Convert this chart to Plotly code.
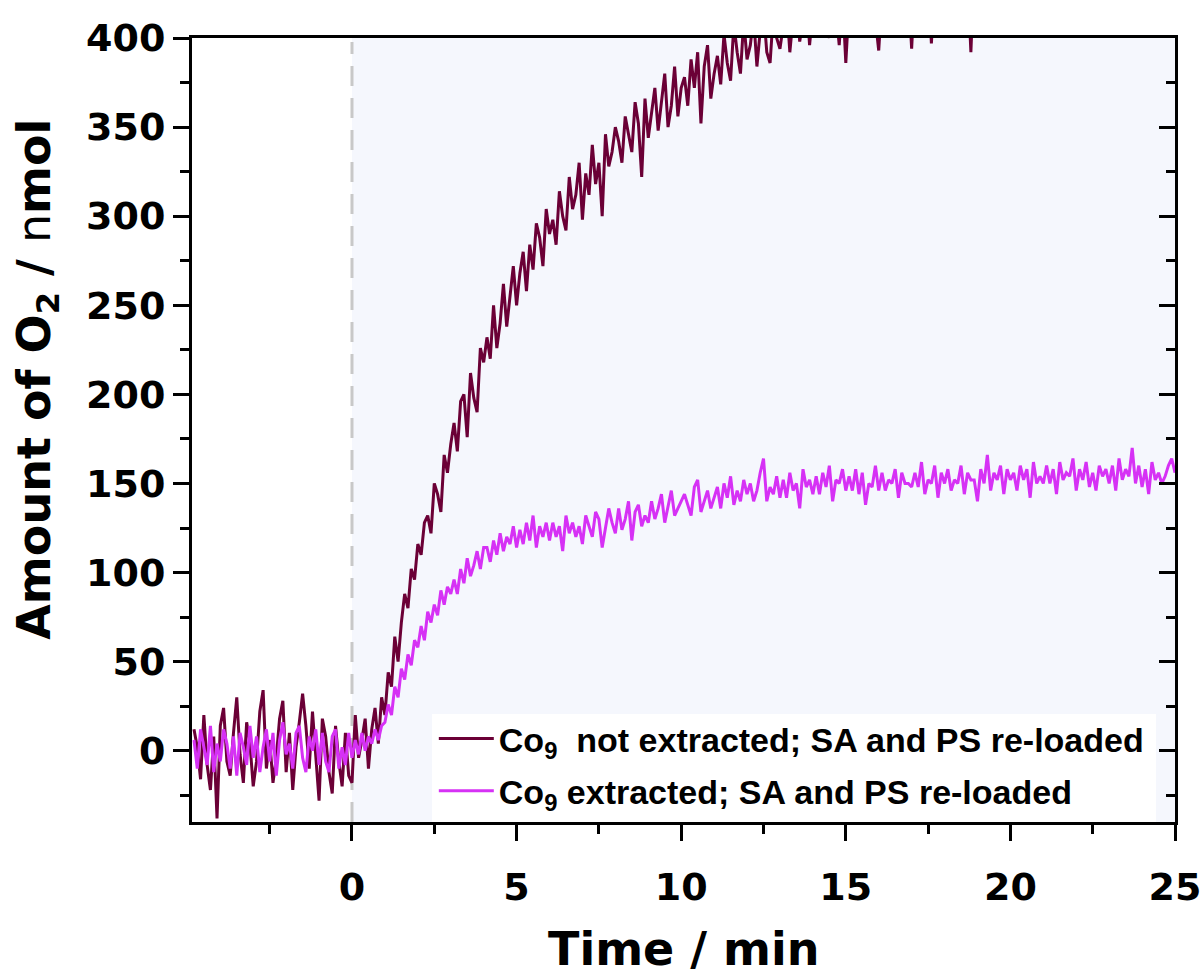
import plotly.graph_objects as go

# ---- data ----
time_start = -4.8   # min
time_step = 0.1     # min

o2_not_extracted = [
    12, 2, -16, 20, -8, -22, 8, -38, 14,
    24, -6, -14, 10, 30, -2, -18, 16, 4, -20,
    -6, 22, 34, -10, 6, -18, -4, 18, 28, -12,
    10, -22, 2, 16, 32, 14, -10, 22, -4, -28,
    18, 8, -12, -24, 14, -6, -20, 10, -14, -18,
    20, -4, 6, 18, -10, 12, 24, 4, 30, 20,
    44, 36, 64, 50, 72, 88, 80, 102, 96, 116,
    110, 128, 132, 122, 150, 144, 134, 166, 156, 172,
    184, 168, 196, 200, 176, 212, 198, 190, 226, 218,
    232, 220, 250, 226, 240, 262, 238, 256, 272, 250,
    268, 280, 258, 284, 270, 296, 288, 272, 304, 290,
    298, 284, 314, 300, 292, 322, 304, 312, 330, 298,
    324, 312, 340, 318, 330, 300, 346, 328, 336, 350,
    342, 330, 356, 346, 336, 364, 352, 322, 366, 344,
    358, 372, 348, 366, 380, 350, 362, 384, 356, 372,
    378, 362, 388, 372, 392, 352, 384, 396, 366, 380,
    390, 374, 402, 386, 376, 408, 392, 380, 410, 388,
    396, 412, 384, 404, 416, 392, 386, 414, 400, 394,
    408, 420, 392, 412, 422, 398, 410, 424, 396, 416,
    418, 404, 426, 412, 400, 428, 416, 396, 424, 386,
    420, 432, 406, 418, 430, 412, 426, 434, 410, 393,
    424, 436, 412, 405, 432, 420, 438, 416, 428, 394,
    432, 418, 440, 426, 436, 397, 430, 442, 420, 436,
    438, 424, 444, 432, 428, 446, 434, 392, 440, 430,
    442, 424, 444, 426, 442, 428, 446, 426, 444, 430,
    446, 428, 448, 430, 446, 432, 450, 430, 448, 432,
    450, 432, 450, 434, 452, 434, 450, 436, 454, 436,
    452, 436, 454, 438, 454, 438, 456, 440, 454, 440,
    458, 440, 456, 442, 458, 442, 460, 444, 458, 444,
    460, 444, 462, 446, 460, 446, 462, 448, 462, 448,
]

o2_extracted = [
    6, -10, 12, 2, -8, 14, -12, 4, -6,
    12, 4, -10, 8, -14, 10, 2, -8, 14, -4,
    8, -12, 2, 12, -6, 10, -14, 6, 16, -2,
    4, -10, 10, 14, -4, -12, 8, 0, 12, -8,
    10, -6, -12, 8, 12, -10, 2, -8, 10, -4,
    6, -2, 10, 0, 8, 4, 12, 6, 14, 16,
    26, 20, 36, 30, 46, 40, 54, 48, 62, 58,
    70, 62, 78, 72, 82, 76, 90, 82, 92, 88,
    96, 88, 102, 94, 108, 98, 104, 112, 102, 114,
    114, 106, 118, 110, 122, 112, 120, 116, 126, 114,
    124, 116, 128, 118, 132, 114, 126, 120, 128, 118,
    128, 120, 126, 112, 132, 122, 128, 120, 126, 116,
    132, 126, 120, 134, 130, 114, 124, 136, 128, 122,
    136, 124, 130, 140, 118, 134, 138, 126, 132, 128,
    140, 130, 136, 144, 128, 138, 146, 132, 136, 140,
    144, 138, 132, 148, 152, 134, 140, 146, 136, 142,
    148, 136, 150, 142, 154, 138, 146, 140, 152, 144,
    150, 140, 146, 156, 164, 140, 148, 144, 154, 142,
    152, 142, 156, 146, 150, 136, 158, 148, 152, 144,
    154, 144, 156, 148, 160, 140, 152, 150, 158, 146,
    154, 146, 158, 144, 156, 138, 150, 148, 160, 146,
    156, 146, 152, 150, 158, 142, 156, 150, 150, 148,
    156, 148, 162, 144, 152, 150, 160, 142, 156, 150,
    158, 146, 152, 150, 160, 144, 156, 152, 152, 140,
    158, 150, 166, 146, 156, 152, 160, 144, 158, 152,
    156, 146, 160, 152, 158, 142, 162, 150, 154, 150,
    160, 150, 158, 144, 162, 152, 156, 154, 164, 146,
    158, 152, 162, 148, 156, 146, 160, 154, 158, 150,
    160, 146, 164, 152, 158, 154, 170, 150, 160, 148,
    158, 144, 162, 152, 156, 150, 154, 160, 164, 156,
]

series_names = [
    "Co<sub>9</sub>  not extracted; SA and PS re-loaded",
    "Co<sub>9</sub> extracted; SA and PS re-loaded",
]
series_colors = ["#6B0036", "#D631F5"]

x_range = [-4.86, 25]
y_range = [-40, 400]

times = [round(time_start + time_step * i, 2) for i in range(len(o2_not_extracted))]

fig = go.Figure()
for name, vals, col, grp in zip(series_names, [o2_not_extracted, o2_extracted], series_colors, ["a", "b"]):
    fig.add_trace(go.Scatter(
        x=times, y=vals, mode="lines", name=name, legendgroup=grp,
        line=dict(color=col, width=3),
    ))

# invisible trace to activate the mirrored right axis with inside ticks
fig.add_trace(go.Scatter(x=[None], y=[None], yaxis="y2", showlegend=False, hoverinfo="skip"))

tick_font = dict(family="DejaVu Sans", size=38, color="black", weight="bold")
title_font = dict(family="DejaVu Sans", size=46, color="black", weight="bold")

fig.update_layout(
    width=1204, height=976,
    margin=dict(l=192, r=29, t=38, b=154, autoexpand=False),
    paper_bgcolor="white", plot_bgcolor="white",
    showlegend=True,
    legend=dict(
        x=0.246, y=0.143, xanchor="left", yanchor="top",
        bgcolor="rgba(0,0,0,0)", borderwidth=0,
        font=dict(family="Liberation Sans", size=34, color="black", weight="bold"),
        tracegroupgap=5, itemwidth=55, traceorder="grouped",
    ),
    xaxis=dict(
        range=x_range, showgrid=False, zeroline=False, automargin=False,
        showline=True, linewidth=3, linecolor="black", mirror=True,
        ticks="outside", ticklen=16, tickwidth=3, tickcolor="black",
        tick0=0, dtick=5, tickfont=tick_font, ticklabelstandoff=13,
        minor=dict(ticks="outside", ticklen=9, tickwidth=3, tickcolor="black", dtick=2.5, tick0=0, showgrid=False),
    ),
    yaxis=dict(
        range=y_range, showgrid=False, zeroline=False, automargin=False,
        showline=True, linewidth=3, linecolor="black", mirror=True,
        ticks="outside", ticklen=16, tickwidth=3, tickcolor="black",
        tick0=0, dtick=50, tickfont=tick_font,
        minor=dict(ticks="outside", ticklen=9, tickwidth=3, tickcolor="black", dtick=25, tick0=0, showgrid=False),
    ),
    yaxis2=dict(
        range=y_range, overlaying="y", side="right", anchor="x", automargin=False,
        showgrid=False, zeroline=False, showline=False, showticklabels=False,
        ticks="inside", ticklen=16, tickwidth=3, tickcolor="black", tick0=0, dtick=50,
        minor=dict(ticks="inside", ticklen=9, tickwidth=3, tickcolor="black", dtick=25, tick0=0, showgrid=False),
    ),
    annotations=[
        dict(text="Amount of O<sub>2</sub> / <span style='font-weight:normal'>n</span>mol",
             xref="paper", yref="paper", x=-0.158, y=0.565, xanchor="center", yanchor="middle",
             textangle=-90, showarrow=False, font=title_font),
        dict(text="Time / min", xref="paper", yref="paper", x=0.5, y=-0.162,
             xanchor="center", yanchor="middle", showarrow=False, font=title_font),
    ],
    shapes=[
        dict(type="rect", layer="below", xref="x", yref="paper", x0=0, x1=25, y0=0, y1=1,
             fillcolor="#F5F7FD", line=dict(width=0)),
        dict(type="rect", layer="below", xref="paper", yref="paper", x0=0.2442, x1=0.9807, y0=0, y1=0.1378,
             fillcolor="white", line=dict(width=0)),
        dict(type="line", layer="below", xref="x", yref="paper", x0=0, x1=0, y0=0, y1=0.995,
             line=dict(color="#C8C8C8", width=3, dash="20px,12px")),
    ],
)

fig.write_html("out.html")
